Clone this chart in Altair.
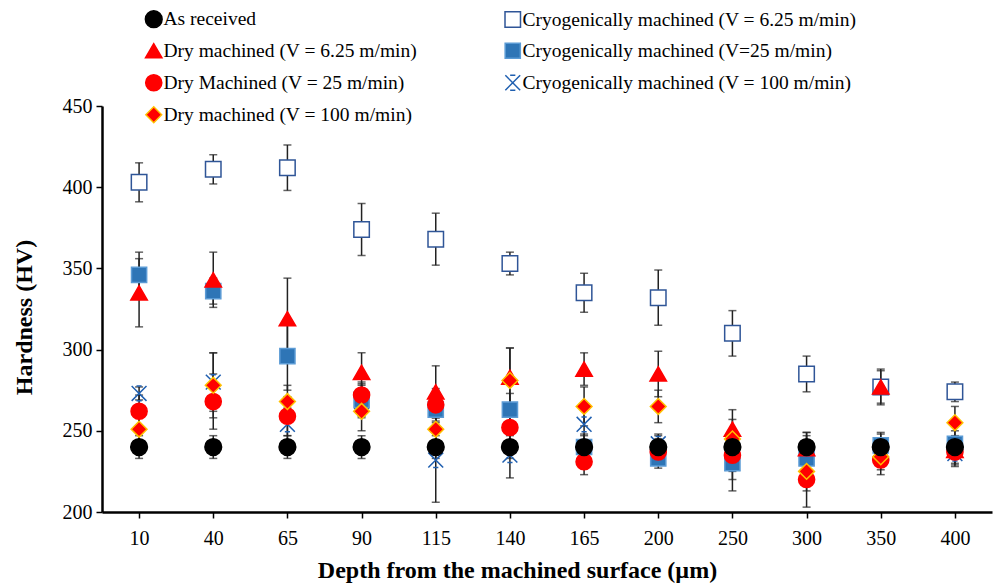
import altair as alt
import pandas as pd

depths = ["10", "40", "65", "90", "115", "140", "165", "200", "250", "300", "350", "400"]

series_names = [
    "As received",
    "Dry machined (V = 6.25 m/min)",
    "Dry Machined (V = 25 m/min)",
    "Dry machined (V = 100 m/min)",
    "Cryogenically machined (V = 6.25 m/min)",
    "Cryogenically machined (V=25 m/min)",
    "Cryogenically machined (V = 100 m/min)",
]

as_received = [240, 240, 240, 240, 240, 240, 240, 240, 240, 240, 240, 240]
as_received_err = [7, 7, 7, 7, 7, 7, 7, 7, 7, 9, 8, 7]

dry_625 = [335, 343, 319, 286, 274, 283, 288, 285, 251, 239, 277, 238]
dry_625_err = [21, 17, 25, 12, 16, 18, 10, 14, 12, 10, 11, 8]

dry_25 = [262, 268, 259, 272, 266, 252, 231, 237, 235, 220, 232, 237]
dry_25_err = [10, 17, 12, 8, 10, 10, 8, 8, 10, 17, 9, 8]

dry_100 = [251, 278, 268, 262, 251, 281, 265, 265, 245, 225, 234, 255]
dry_100_err = [8, 20, 10, 12, 8, 20, 12, 10, 12, 12, 8, 10]

cryo_625 = [403, 411, 412, 374, 368, 353, 335, 332, 310, 285, 277, 274]
cryo_625_err = [12, 9, 14, 16, 16, 7, 12, 17, 14, 11, 10, 6]

cryo_25 = [346, 336, 296, 269, 263, 263, 240, 233, 230, 233, 241, 242]
cryo_25_err = [14, 8, 21, 10, 8, 10, 8, 6, 17, 10, 8, 8]

cryo_100 = [273, 280, 254, 268, 232, 235, 254, 242, 230, 235, 237, 236]
cryo_100_err = [4, 18, 10, 10, 26, 14, 12, 6, 10, 12, 8, 8]

values = {
    series_names[0]: (as_received, as_received_err),
    series_names[1]: (dry_625, dry_625_err),
    series_names[2]: (dry_25, dry_25_err),
    series_names[3]: (dry_100, dry_100_err),
    series_names[4]: (cryo_625, cryo_625_err),
    series_names[5]: (cryo_25, cryo_25_err),
    series_names[6]: (cryo_100, cryo_100_err),
}

# drawing order (back to front)
draw_order = [
    series_names[4], series_names[6], series_names[5], series_names[1],
    series_names[2], series_names[3], series_names[0],
]

rows = []
for s, (v, e) in values.items():
    for d, val, err in zip(depths, v, e):
        rows.append({"depth": d, "series": s, "hv": val,
                     "lo": val - err, "hi": val + err,
                     "order": draw_order.index(s)})
df = pd.DataFrame(rows)

fills = ["#000000", "#ff0000", "#ff0000", "#ff0000", "#ffffff", "#2e75b6", "transparent"]
strokes = ["#000000", "#ff0000", "#ff0000", "#ffc000", "#2f5597", "#5b9bd5", "#1f5fb0"]
shapes = ["circle", "triangle-up", "circle", "diamond", "square", "square",
          "M-1,-1L1,1M-1,1L1,-1M-0.35,-1L0.35,-1M-0.35,1L0.35,1"]
sizes = [280, 220, 120, 180, 230, 130, 90]

FONT = "Times New Roman, Liberation Serif, Tinos, serif"

x_enc = alt.X("depth:O", sort=depths,
              scale=alt.Scale(type="point", padding=0.5),
              axis=alt.Axis(title="Depth from the machined surface (µm)",
                            labelAngle=0, labelFontSize=20, labelPadding=10,
                            titleFontSize=24, titleFontWeight="bold",
                            titlePadding=10, titleX=415, titleAlign="center",
                            tickSize=6, tickWidth=1.5,
                            domainWidth=2.5, tickColor="#000", domainColor="#000"))
y_scale = alt.Scale(domain=[200, 450], nice=False, zero=False)

base = alt.Chart(df)

rules = base.mark_rule(color="#222222", strokeWidth=1.5).encode(
    x=x_enc,
    y=alt.Y("lo:Q", scale=y_scale),
    y2="hi:Q",
)
caps_lo = base.mark_tick(color="#222222", thickness=1.5, size=8).encode(
    x=x_enc, y=alt.Y("lo:Q", scale=y_scale))
caps_hi = base.mark_tick(color="#222222", thickness=1.5, size=8).encode(
    x=x_enc, y=alt.Y("hi:Q", scale=y_scale))

points = base.mark_point(filled=True, opacity=1, strokeWidth=1.5).encode(
    x=x_enc,
    y=alt.Y("hv:Q", scale=y_scale,
            axis=alt.Axis(title="Hardness (HV)", values=[200, 250, 300, 350, 400, 450],
                          labelFontSize=20, labelPadding=4,
                          titleFontSize=24, titleFontWeight="bold", titlePadding=26,
                          titleY=211, titleAlign="center",
                          tickSize=6, tickWidth=1.5, domainWidth=2.5,
                          tickColor="#000", domainColor="#000")),
    fill=alt.Fill("series:N", scale=alt.Scale(domain=series_names, range=fills), title=None),
    stroke=alt.Stroke("series:N", scale=alt.Scale(domain=series_names, range=strokes), title=None),
    shape=alt.Shape("series:N", scale=alt.Scale(domain=series_names, range=shapes), title=None),
    size=alt.Size("series:N", scale=alt.Scale(domain=series_names, range=sizes), title=None),
    order=alt.Order("order:Q"),
)

chart = alt.layer(rules, caps_lo, caps_hi, points).properties(
    width=890, height=406,
    autosize=alt.AutoSizeParams(type="none"),
    padding={"left": 102, "top": 106, "right": 3, "bottom": 73},
).configure_view(stroke=None).configure_axis(
    grid=False, labelFont=FONT, titleFont=FONT,
    labelColor="#000", titleColor="#000",
).configure_legend(
    orient="none", legendX=42, legendY=-97, columns=2, direction="vertical",
    labelFont=FONT, labelFontSize=19.5, labelColor="#000",
    rowPadding=9, columnPadding=84, labelOffset=0, symbolStrokeWidth=1.5,
    gridAlign="each", labelLimit=400,
)

chart.save("out.html", embed_options={"renderer": "svg", "actions": False})
